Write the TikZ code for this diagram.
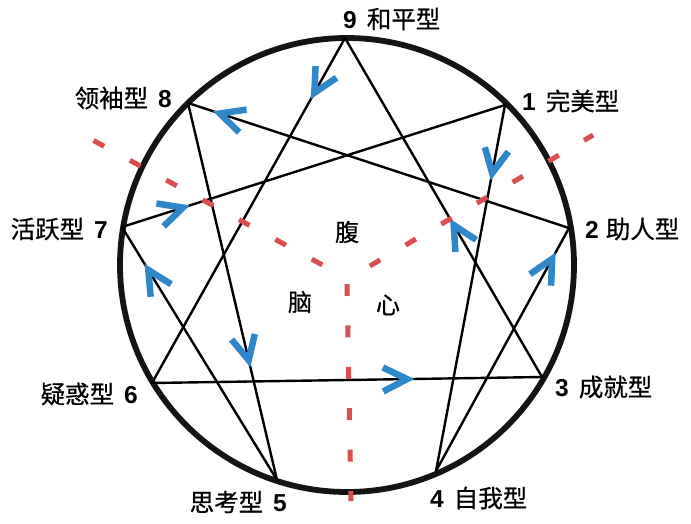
\documentclass[tikz,border=0pt]{standalone}
\usepackage{fontspec}
\setmainfont{Liberation Sans}
\newfontfamily\cjk[FakeBold=0.6]{Noto Sans CJK SC}
\usetikzlibrary{decorations.markings}
\definecolor{chevblue}{RGB}{45,135,200}
\definecolor{zonered}{RGB}{218,78,80}
\begin{document}
\begin{tikzpicture}[x=1pt,y=-1pt,
  edge/.style={line width=2.4pt, black, line cap=round},
  ring/.style={line width=5.8pt, black!92},
  chev/.style={draw=chevblue, line width=6.5pt, line join=miter, line cap=butt},
  zone/.style={draw=zonered, line width=5pt, dash pattern=on 12pt off 29.4pt},
  lbl/.style={inner sep=0pt, font=\fontsize{24.5}{28}\selectfont},
  mid/.style={inner sep=0pt, font=\cjk\fontsize{24}{28}\selectfont},
  flow/.style={edge, postaction={decorate, decoration={markings,
     mark=at position #1 with {\draw[chev] (-24pt,12pt) -- (0pt,0pt) -- (-24pt,-12pt);}}}}
]
\fill[white] (0,0) rectangle (691,523);
\useasboundingbox (0,0) rectangle (691,523);

\coordinate (c) at (347,265);
\coordinate (v9) at (345,38);
\coordinate (v1) at (505,105);
\coordinate (v2) at (569,228);
\coordinate (v3) at (542,377);
\coordinate (v4) at (436,471);
\coordinate (v5) at (277,480);
\coordinate (v6) at (152,383);
\coordinate (v7) at (122,227);
\coordinate (v8) at (188,103);

\draw[ring] (c) circle[radius=227];

% triangle 9-6-3
\draw[flow=0.159] (v9) -- (v6);
\draw[flow=0.654] (v6) -- (v3);
\draw[flow=0.448] (v3) -- (v9);
% hexad 1-4-2-8-5-7-1
\draw[flow=0.186] (v1) -- (v4);
\draw[flow=0.873] (v4) -- (v2);
\draw[flow=0.916] (v2) -- (v8);
\draw[flow=0.682] (v8) -- (v5);
\draw[flow=0.83]  (v5) -- (v7);
\draw[flow=0.159] (v7) -- (v1);

% centre zones
\draw[zone] (347,284) -- (351,501);
\draw[zone] (322.3,264.9) -- (92.7,140.1);
\draw[zone] (369.8,266) -- (593.2,135);

% labels
\node[lbl, anchor=west] (t9) at (343,19)  {\textbf{9}\hspace{10pt}{\cjk 和平型}};
\node[lbl, anchor=west] (t1) at (522,101) {\textbf{1}\hspace{10pt}{\cjk 完美型}};
\node[lbl, anchor=west] (t2) at (585,229) {\textbf{2}\hspace{7pt}{\cjk 助人型}};
\node[lbl, anchor=west] (t3) at (555,387) {\textbf{3}\hspace{10pt}{\cjk 成就型}};
\node[lbl, anchor=west] (t4) at (430,498) {\textbf{4}\hspace{10pt}{\cjk 自我型}};
\node[lbl, anchor=east] (t5) at (287,502) {{\cjk 思考型}\hspace{10pt}\textbf{5}};
\node[lbl, anchor=east] (t6) at (138,394) {{\cjk 疑惑型}\hspace{10pt}\textbf{6}};
\node[lbl, anchor=east] (t7) at (108,229) {{\cjk 活跃型}\hspace{10pt}\textbf{7}};
\node[lbl, anchor=east] (t8) at (172,98)  {{\cjk 领袖型}\hspace{10pt}\textbf{8}};

\node[mid] (z1) at (347,232) {腹};
\node[mid] (z2) at (300,302) {脑};
\node[mid] (z3) at (388,305) {心};
\end{tikzpicture}
\end{document}
